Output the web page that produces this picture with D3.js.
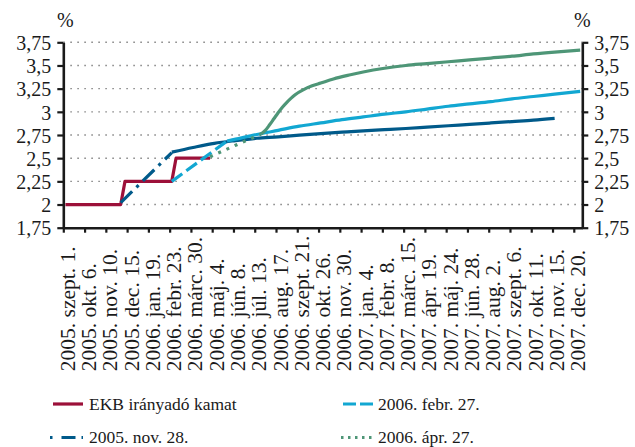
<!DOCTYPE html>
<html>
<head>
<meta charset="utf-8">
<script src="https://cdn.jsdelivr.net/npm/d3@7"></script>
<style>
	body { margin: 0; background: #fff; }
	text { font-family: "Liberation Serif", "Times New Roman", serif; fill: #1a1a1a; }
</style>
</head>
<body>
<div id="chart"></div>
<script>
// weekly categories starting 2005. szept. 1., a label every 5 weeks
var weekCount = 122;
var tickLabels = ["2005. szept. 1.", "2005. okt. 6.", "2005. nov. 10.", "2005. dec. 15.",
	"2006. jan. 19.", "2006. febr. 23.", "2006. márc. 30.", "2006. máj. 4.", "2006. jún. 8.",
	"2006. júl. 13.", "2006. aug. 17.", "2006. szept. 21.", "2006. okt. 26.", "2006. nov. 30.",
	"2007. jan. 4.", "2007. febr. 8.", "2007. márc. 15.", "2007. ápr. 19.", "2007. máj. 24.",
	"2007. jún. 28.", "2007. aug. 2.", "2007. szept. 6.", "2007. okt. 11.", "2007. nov. 15.",
	"2007. dec. 20."];
var yTicks = [1.75, 2, 2.25, 2.5, 2.75, 3, 3.25, 3.5, 3.75];

// EKB irányadó kamat, weeks 0..34
var ecbRate = [2, 2, 2, 2, 2, 2, 2, 2, 2, 2, 2, 2, 2, 2,
	2.25, 2.25, 2.25, 2.25, 2.25, 2.25, 2.25, 2.25, 2.25, 2.25, 2.25, 2.25,
	2.5, 2.5, 2.5, 2.5, 2.5, 2.5, 2.5, 2.5, 2.5];

// forward curves: [week, value]
var nov28Start = [[13, 2.02], [25, 2.56]];
var nov28 = [[25, 2.565], [30, 2.615], [35, 2.66], [40, 2.69], [45, 2.715], [50, 2.73],
	[55, 2.748], [60, 2.765], [65, 2.78], [70, 2.795], [75, 2.807], [80, 2.82], [85, 2.835],
	[90, 2.85], [95, 2.865], [100, 2.88], [105, 2.895], [110, 2.91], [115, 2.93]];

var feb27Start = [[25, 2.25], [38, 2.685]];
var feb27 = [[38, 2.685], [40, 2.705], [45, 2.755], [50, 2.8], [55, 2.845], [60, 2.88],
	[65, 2.915], [70, 2.945], [75, 2.975], [80, 3.0], [85, 3.03], [90, 3.06], [95, 3.085],
	[100, 3.11], [105, 3.14], [110, 3.165], [115, 3.19], [121, 3.22]];

var apr27Start = [[34, 2.515], [40, 2.64], [46, 2.76]];
var apr27 = [[46, 2.76], [47, 2.8], [48, 2.86], [49, 2.925], [50, 2.99], [51, 3.05],
	[52, 3.1], [53, 3.145], [54, 3.185], [56, 3.24], [58, 3.28], [60, 3.31], [63, 3.355],
	[67, 3.4], [70, 3.43], [75, 3.47], [80, 3.5], [85, 3.52], [90, 3.54], [95, 3.56],
	[100, 3.58], [105, 3.6], [110, 3.625], [115, 3.645], [121, 3.665]];

var seriesNames = ["EKB irányadó kamat", "2006. febr. 27.", "2005. nov. 28.", "2006. ápr. 27."];

var colRed = "#9c1039",
	colDark = "#005a8a",
	colLight = "#12a7d2",
	colGreen = "#4e9677";

var svg_width = 635,
	svg_height = 447;

var svg = d3.select("#chart").append("svg")
	.attr("width", svg_width)
	.attr("height", svg_height);

var xScale = d3.scaleLinear().domain([0, weekCount]).range([63.3, 582.3]);
var yScale = d3.scaleLinear().domain([1.75, 3.75]).range([227.7, 42.3]);

function xMid(w) { return xScale(w + 0.5); }

// gridlines
svg.append("g")
	.selectAll("line")
	.data(yTicks.slice(1))
	.enter()
	.append("line")
	.attr("x1", xScale(0))
	.attr("x2", xScale(weekCount))
	.attr("y1", function(d) { return yScale(d); })
	.attr("y2", function(d) { return yScale(d); })
	.style("stroke", "#8a8a8a")
	.style("stroke-width", 1.4)
	.style("stroke-dasharray", "1.6,5.4");

// axes
var fmt = function(d) { return String(d).replace(".", ","); };

var yLeft = svg.append("g")
	.attr("transform", "translate(" + xScale(0) + ",0)")
	.call(d3.axisLeft(yScale).tickValues(yTicks).tickSize(6).tickSizeOuter(0).tickFormat(fmt));
var yRight = svg.append("g")
	.attr("transform", "translate(" + xScale(weekCount) + ",0)")
	.call(d3.axisRight(yScale).tickValues(yTicks).tickSize(6).tickSizeOuter(0).tickFormat(fmt));

var tickWeeks = tickLabels.map(function(d, i) { return i * 5; });
var xAxis = svg.append("g")
	.attr("transform", "translate(0," + yScale(1.75) + ")")
	.call(d3.axisBottom(xScale).tickValues(tickWeeks).tickSize(5).tickSizeOuter(0)
		.tickFormat(function(d, i) { return tickLabels[i]; }));

xAxis.selectAll("text")
	.attr("x", null).attr("y", null).attr("dy", null)
	.attr("transform", "translate(11,143.5) rotate(-90)")
	.style("text-anchor", "start")
	.style("font-size", "21.5px");

[yLeft, yRight, xAxis].forEach(function(g) {
	g.attr("font-family", null);
	g.select(".domain").style("stroke", "#1a1a1a").style("stroke-width", 2.6);
	g.selectAll(".tick line").style("stroke", "#1a1a1a").style("stroke-width", 2.2);
	g.selectAll("text").style("fill", "#1a1a1a");
});
yLeft.selectAll("text").style("font-size", "20px").attr("x", -12).attr("dy", "0.36em");
yRight.selectAll("text").style("font-size", "20px").attr("x", 12).attr("dy", "0.36em");

svg.append("text").attr("x", 57).attr("y", 27).style("font-size", "20px").text("%");
svg.append("text").attr("x", 574).attr("y", 27).style("font-size", "20px").text("%");

// lines
var line = d3.line()
	.x(function(d) { return xMid(d[0]); })
	.y(function(d) { return yScale(d[1]); });

var smoothLine = d3.line()
	.x(function(d) { return xMid(d[0]); })
	.y(function(d) { return yScale(d[1]); })
	.curve(d3.curveMonotoneX);

function drawLine(data, gen, color, dash) {
	svg.append("path")
		.datum(data)
		.attr("d", gen)
		.style("fill", "none")
		.style("stroke", color)
		.style("stroke-width", 3.2)
		.style("stroke-linejoin", "round")
		.style("stroke-dasharray", dash);
}

drawLine(ecbRate.map(function(v, i) { return [i, v]; }), line, colRed, null);
drawLine(nov28Start, line, colDark, "16,6,3,6");
drawLine(nov28, smoothLine, colDark, null);
drawLine(feb27Start, line, colLight, "13,5");
drawLine(feb27, smoothLine, colLight, null);
drawLine(apr27Start, line, colGreen, "3,6");
drawLine(apr27, smoothLine, colGreen, null);

// legend
var legendItems = [
	{ name: seriesNames[0], color: colRed, dash: null, x: 53, len: 30, tx: 89, y: 404 },
	{ name: seriesNames[1], color: colLight, dash: "13,4", x: 343, len: 30, tx: 378, y: 404 },
	{ name: seriesNames[2], color: colDark, dash: "2.5,9,14,6,2.5", x: 50, len: 33, tx: 89, y: 437.5 },
	{ name: seriesNames[3], color: colGreen, dash: "2.5,4.5", x: 341, len: 33, tx: 378, y: 437.5 }
];

var legend = svg.selectAll(".legend")
	.data(legendItems)
	.enter()
	.append("g")
	.attr("class", "legend");

legend.append("line")
	.attr("x1", function(d) { return d.x; })
	.attr("x2", function(d) { return d.x + d.len; })
	.attr("y1", function(d) { return d.y; })
	.attr("y2", function(d) { return d.y; })
	.style("stroke", function(d) { return d.color; })
	.style("stroke-width", 3.2)
	.style("stroke-dasharray", function(d) { return d.dash; });

legend.append("text")
	.attr("x", function(d) { return d.tx; })
	.attr("y", function(d) { return d.y + 5.5; })
	.style("font-size", "17.5px")
	.text(function(d) { return d.name; });
</script>
</body>
</html>
